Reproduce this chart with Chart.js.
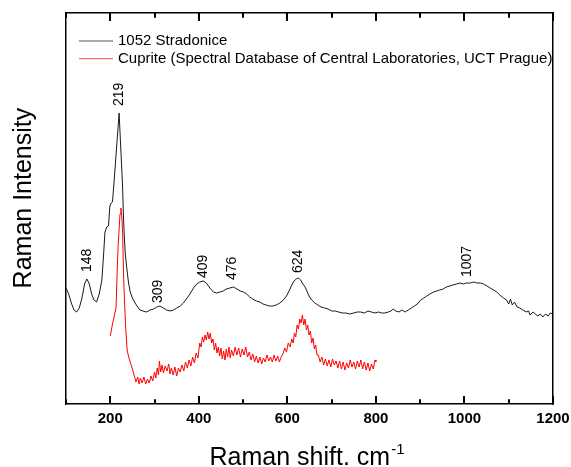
<!DOCTYPE html>
<html>
<head>
<meta charset="utf-8">
<script src="https://cdn.jsdelivr.net/npm/chart.js@4/dist/chart.umd.min.js"></script>
<style>
  html, body { margin: 0; padding: 0; background: #fff; }
  #wrap { width: 571px; height: 467px; position: relative; }
</style>
</head>
<body>
<div id="wrap"><canvas id="ramanchart"></canvas></div>
<script>
// measured spectrum of the sample (cm-1 / arbitrary intensity)
const blackShift = [100, 106, 112, 118, 124, 130, 136, 142, 147, 152, 158, 163, 169, 175, 181, 185, 188, 192, 196, 199,
  202, 205, 208, 211, 214, 217, 220, 223, 226, 228, 230, 232, 234, 237, 241, 245, 250, 256, 262,
  267, 274, 282, 290, 298, 305, 312, 320, 327, 335, 343, 350, 358, 365, 372, 380, 388, 395, 402, 410,
  417, 425, 433, 440, 448, 455, 462, 470, 478, 486, 494, 501, 508, 515, 522, 530, 538, 545, 552, 560,
  567, 575, 583, 591, 598, 605, 610, 615, 620, 625, 630, 635, 640, 645, 650, 655, 662, 669, 676, 684,
  692, 700, 708, 716, 724, 732, 741, 750, 758, 766, 774, 782, 790, 798, 806, 813, 820, 828, 834, 839,
  845, 852, 859, 866, 873, 880, 887, 894, 901, 908, 915, 922, 930, 937, 944, 952, 959, 967, 974, 982,
  990, 997, 1005, 1013, 1021, 1028, 1036, 1043, 1051, 1058, 1066, 1073, 1080, 1088, 1095, 1100, 1104, 1108, 1113, 1119,
  1125, 1132, 1140, 1145, 1148, 1155, 1160, 1166, 1171, 1177, 1183, 1189, 1194, 1200];
const blackIntensity = [116, 110, 101, 94, 92, 96, 106, 120, 125, 121, 110, 104, 102, 110, 124, 150, 172, 177, 178, 198,
  201, 202, 219, 237, 255, 273, 291, 262, 235, 215, 185, 165, 150, 137, 122, 112, 106, 101, 97,
  94, 93, 92, 94, 95, 97, 98, 96, 94, 93, 94, 96, 98, 101, 105, 110, 116, 120, 122, 123,
  121, 116, 112, 111, 112, 113, 115, 116, 117, 115, 113, 112, 110, 107, 105, 103, 102, 100, 99, 98,
  98, 99, 101, 104, 108, 114, 119, 123, 125, 126, 124, 120, 117, 112, 107, 104, 101, 99, 97, 96,
  95, 93, 93, 92, 91, 91, 90, 91, 92, 92, 91, 93, 92, 91, 92, 91, 91, 92, 93, 95,
  93, 92, 94, 92, 94, 96, 98, 100, 104, 106, 108, 110, 112, 113, 114, 115, 117, 118, 119, 120,
  121, 120, 121, 121, 122, 121, 121, 120, 118, 116, 114, 112, 109, 106, 104, 100, 105, 99, 102, 97,
  96, 94, 92, 93, 89, 92, 90, 88, 90, 87, 90, 88, 91, 90];

// reference spectrum of cuprite
const redShift = [200, 205, 210, 213, 216, 218, 220, 222, 224, 226, 228, 230, 232, 235, 238, 241, 245, 248, 252, 255,
  258, 262, 265, 268, 272, 276, 280, 284, 288, 292, 296, 300, 303, 306, 309, 311, 314, 317, 320, 324,
  328, 332, 335, 338, 342, 346, 350, 354, 358, 362, 366, 370, 374, 378, 382, 386, 390, 394, 398, 402,
  405, 408, 411, 414, 417, 420, 423, 426, 429, 432, 435, 438, 441, 444, 447, 450, 453, 456, 459, 462,
  465, 468, 471, 474, 478, 482, 486, 490, 494, 498, 502, 506, 510, 514, 518, 522, 526, 530, 534, 538,
  542, 546, 550, 554, 558, 562, 566, 570, 574, 578, 582, 586, 590, 594, 598, 602, 606, 610, 613, 616,
  619, 622, 625, 628, 631, 634, 637, 640, 643, 646, 649, 652, 655, 658, 661, 664, 667, 670, 674, 678,
  682, 686, 690, 694, 698, 702, 706, 710, 714, 718, 722, 726, 730, 734, 738, 742, 746, 750, 754, 758,
  762, 766, 770, 774, 778, 782, 786, 790, 794, 798, 800];
const redIntensity = [68, 80, 90, 96, 138, 160, 175, 190, 196, 188, 170, 130, 104, 75, 54, 48, 42, 38, 32, 27,
  22, 27, 20, 26, 21, 27, 20, 25, 21, 28, 23, 32, 26, 36, 29, 43, 32, 39, 31, 38,
  33, 40, 30, 36, 29, 37, 28, 36, 32, 39, 33, 42, 36, 44, 38, 47, 41, 51, 46, 61,
  57, 67, 62, 69, 64, 72, 65, 71, 61, 65, 54, 61, 51, 57, 48, 56, 45, 53, 44, 55,
  47, 57, 46, 54, 48, 57, 49, 56, 47, 55, 49, 57, 47, 52, 44, 50, 42, 48, 41, 47,
  40, 46, 42, 49, 43, 47, 42, 49, 43, 48, 42, 47, 50, 56, 52, 61, 57, 65, 61, 71,
  67, 79, 75, 85, 81, 89, 79, 85, 74, 79, 69, 73, 61, 66, 55, 59, 49, 49, 42, 47,
  39, 45, 38, 44, 37, 45, 39, 43, 36, 43, 35, 42, 34, 41, 36, 44, 37, 42, 35, 43,
  37, 44, 35, 42, 34, 41, 33, 40, 35, 44, 42];

// band labels: position and height where the label starts
const peakShift = [148, 219, 309, 409, 476, 624, 1007];
const peakLabelBase = [132, 298, 101, 126, 124, 131, 127];

// tick marks on the frame, labelled ones are the long ones
const xTickValues = [100, 200, 300, 400, 500, 600, 700, 800, 900, 1000, 1100, 1200];
const xTicksLabelled = [200, 400, 600, 800, 1000, 1200];

const FONT = 'Arial, "Liberation Sans", sans-serif';

function toPoints(xs, ys) {
    return xs.map(function (x, i) { return { x: x, y: ys[i] }; });
}

function drawFrameTicks(chart) {
    const ctx = chart.ctx;
    const xs = chart.scales.x;
    const area = chart.chartArea;
    ctx.save();
    ctx.setLineDash([]);
    ctx.globalAlpha = 1;
    ctx.strokeStyle = '#000';
    ctx.lineWidth = 2;
    xTickValues.forEach(function (v) {
        const px = Math.round(xs.getPixelForValue(v));
        const len = xTicksLabelled.indexOf(v) >= 0 ? 8 : 4.5;
        ctx.beginPath();
        ctx.moveTo(px, area.bottom);
        ctx.lineTo(px, area.bottom - len);
        ctx.moveTo(px, area.top);
        ctx.lineTo(px, area.top + len);
        ctx.stroke();
    });
    ctx.restore();
}

// band labels and frame ticks, drawn right after the spectra
const peakLabels = {
    id: 'peakLabels',
    afterDatasetsDraw: function (chart) {
        const ctx = chart.ctx;
        const xs = chart.scales.x;
        const ys = chart.scales.y;
        drawFrameTicks(chart);
        ctx.save();
        ctx.font = '14px ' + FONT;
        ctx.fillStyle = '#000';
        ctx.textAlign = 'left';
        ctx.textBaseline = 'middle';
        peakShift.forEach(function (p, i) {
            ctx.save();
            ctx.translate(xs.getPixelForValue(p), ys.getPixelForValue(peakLabelBase[i]));
            ctx.rotate(-Math.PI / 2);
            ctx.fillText(String(p), 0, 0);
            ctx.restore();
        });
        ctx.restore();
    }
};

// legend inside the plot and the x title with its superscript
const decorations = {
    id: 'decorations',
    afterDraw: function (chart) {
        const ctx = chart.ctx;
        const area = chart.chartArea;

        drawFrameTicks(chart);

        ctx.save();
        ctx.font = '15px ' + FONT;
        ctx.textBaseline = 'middle';
        ctx.textAlign = 'left';
        chart.data.datasets.forEach(function (ds, i) {
            const y = area.top + 28 + i * 17.6;
            ctx.strokeStyle = ds.borderColor === '#ff0000' ? '#ff6b6b' : '#555';
            ctx.lineWidth = 1.2;
            ctx.beginPath();
            ctx.moveTo(area.left + 13, y);
            ctx.lineTo(area.left + 47, y);
            ctx.stroke();
            ctx.fillStyle = '#000';
            ctx.fillText(ds.label, area.left + 52, y);
        });
        ctx.restore();

        const main = 'Raman shift. cm';
        const sup = '-1';
        ctx.save();
        ctx.fillStyle = '#000';
        ctx.textBaseline = 'alphabetic';
        ctx.textAlign = 'left';
        ctx.font = '25px ' + FONT;
        const wMain = ctx.measureText(main).width;
        ctx.font = '15px ' + FONT;
        const wSup = ctx.measureText(sup).width;
        const x0 = (area.left + area.right) / 2 - (wMain + wSup) / 2 - 3;
        ctx.font = '25px ' + FONT;
        ctx.fillText(main, x0, 465);
        ctx.font = '15px ' + FONT;
        ctx.fillText(sup, x0 + wMain + 1, 454);
        ctx.restore();
    }
};

function noPad(scale) {
    scale.paddingLeft = 0;
    scale.paddingRight = 0;
    scale.paddingTop = 0;
    scale.paddingBottom = 0;
}

document.addEventListener('DOMContentLoaded', function () {
    const ctx = document.getElementById('ramanchart').getContext('2d');

    const data = {
        datasets: [
            {
                label: '1052 Stradonice',
                data: toPoints(blackShift, blackIntensity),
                borderColor: '#1a1a1a',
                borderWidth: 1,
                pointRadius: 0,
                tension: 0
            },
            {
                label: 'Cuprite (Spectral Database of Central Laboratories, UCT Prague)',
                data: toPoints(redShift, redIntensity),
                borderColor: '#ff0000',
                borderWidth: 1,
                pointRadius: 0,
                tension: 0
            }
        ]
    };

    const options = {
        responsive: true,
        maintainAspectRatio: false,
        animation: false,
        layout: { padding: { left: 0, right: 18, top: 13, bottom: 0 } },
        plugins: {
            legend: { display: false },
            tooltip: { enabled: false }
        },
        scales: {
            x: {
                type: 'linear',
                position: 'bottom',
                min: 100,
                max: 1200,
                border: { display: true, color: '#000', width: 1.5 },
                grid: { display: false, drawTicks: false },
                ticks: {
                    stepSize: 100,
                    autoSkip: false,
                    maxRotation: 0,
                    padding: 6,
                    color: '#000',
                    font: { family: FONT, size: 15, weight: 'bold' },
                    callback: function (value) {
                        return xTicksLabelled.indexOf(value) >= 0 ? value : '';
                    }
                },
                afterFit: function (scale) { scale.height = 63; noPad(scale); }
            },
            x2: {
                type: 'linear',
                position: 'top',
                min: 100,
                max: 1200,
                border: { display: true, color: '#000', width: 1.5 },
                grid: { display: false, drawTicks: false },
                ticks: { display: false },
                afterFit: function (scale) { scale.height = 0; noPad(scale); }
            },
            y: {
                type: 'linear',
                position: 'left',
                min: 0,
                max: 391,
                border: { display: true, color: '#000', width: 1.5 },
                grid: { display: false, drawTicks: false },
                ticks: { display: false },
                title: {
                    display: true,
                    // leading spaces lift the title a little above the centre, as in the original
                    text: '   Raman Intensity',
                    color: '#000',
                    font: { family: FONT, size: 25 },
                    padding: { top: 9, bottom: 0 }
                },
                afterFit: function (scale) { scale.width = 66; noPad(scale); }
            },
            y2: {
                type: 'linear',
                position: 'right',
                min: 0,
                max: 391,
                border: { display: true, color: '#000', width: 1.5 },
                grid: { display: false, drawTicks: false },
                ticks: { display: false },
                afterFit: function (scale) { scale.width = 0; noPad(scale); }
            }
        }
    };

    new Chart(ctx, {
        type: 'line',
        data: data,
        options: options,
        plugins: [peakLabels, decorations]
    });
});
</script>
</body>
</html>
